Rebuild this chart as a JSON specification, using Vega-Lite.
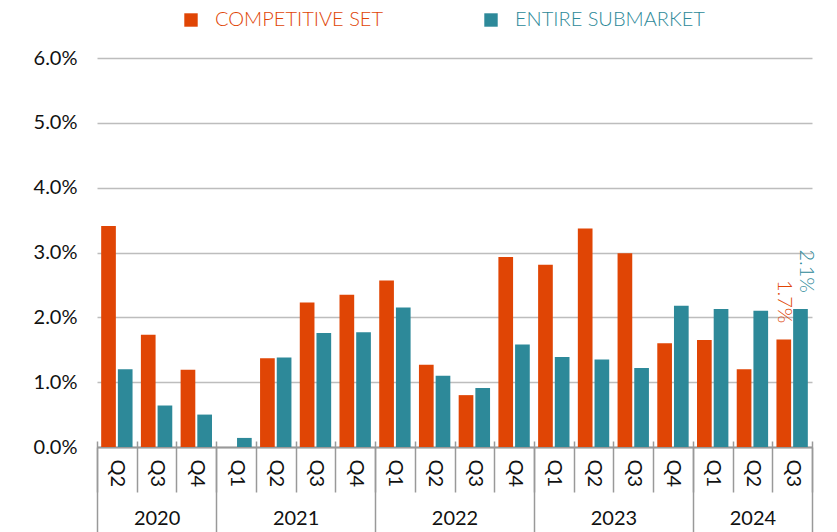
{
  "$schema": "https://vega.github.io/schema/vega-lite/v6.json",
  "width": 715,
  "height": 389,
  "autosize": {"type": "none"},
  "padding": {"left": 97, "top": 58, "right": 25, "bottom": 85},
  "config": {"view": {"stroke": null}, "font": "Lato"},
  "datasets": {
    "rent": [
      {"q": "2020 Q2", "series": "COMPETITIVE SET", "value": 0.0341},
      {"q": "2020 Q2", "series": "ENTIRE SUBMARKET", "value": 0.0120},
      {"q": "2020 Q3", "series": "COMPETITIVE SET", "value": 0.0173},
      {"q": "2020 Q3", "series": "ENTIRE SUBMARKET", "value": 0.0064},
      {"q": "2020 Q4", "series": "COMPETITIVE SET", "value": 0.0119},
      {"q": "2020 Q4", "series": "ENTIRE SUBMARKET", "value": 0.0050},
      {"q": "2021 Q1", "series": "COMPETITIVE SET", "value": 0.0000},
      {"q": "2021 Q1", "series": "ENTIRE SUBMARKET", "value": 0.0014},
      {"q": "2021 Q2", "series": "COMPETITIVE SET", "value": 0.0137},
      {"q": "2021 Q2", "series": "ENTIRE SUBMARKET", "value": 0.0138},
      {"q": "2021 Q3", "series": "COMPETITIVE SET", "value": 0.0223},
      {"q": "2021 Q3", "series": "ENTIRE SUBMARKET", "value": 0.0176},
      {"q": "2021 Q4", "series": "COMPETITIVE SET", "value": 0.0235},
      {"q": "2021 Q4", "series": "ENTIRE SUBMARKET", "value": 0.0177},
      {"q": "2022 Q1", "series": "COMPETITIVE SET", "value": 0.0257},
      {"q": "2022 Q1", "series": "ENTIRE SUBMARKET", "value": 0.0215},
      {"q": "2022 Q2", "series": "COMPETITIVE SET", "value": 0.0127},
      {"q": "2022 Q2", "series": "ENTIRE SUBMARKET", "value": 0.0110},
      {"q": "2022 Q3", "series": "COMPETITIVE SET", "value": 0.0080},
      {"q": "2022 Q3", "series": "ENTIRE SUBMARKET", "value": 0.0091},
      {"q": "2022 Q4", "series": "COMPETITIVE SET", "value": 0.0293},
      {"q": "2022 Q4", "series": "ENTIRE SUBMARKET", "value": 0.0158},
      {"q": "2023 Q1", "series": "COMPETITIVE SET", "value": 0.0281},
      {"q": "2023 Q1", "series": "ENTIRE SUBMARKET", "value": 0.0139},
      {"q": "2023 Q2", "series": "COMPETITIVE SET", "value": 0.0337},
      {"q": "2023 Q2", "series": "ENTIRE SUBMARKET", "value": 0.0135},
      {"q": "2023 Q3", "series": "COMPETITIVE SET", "value": 0.0299},
      {"q": "2023 Q3", "series": "ENTIRE SUBMARKET", "value": 0.0122},
      {"q": "2023 Q4", "series": "COMPETITIVE SET", "value": 0.0160},
      {"q": "2023 Q4", "series": "ENTIRE SUBMARKET", "value": 0.0218},
      {"q": "2024 Q1", "series": "COMPETITIVE SET", "value": 0.0165},
      {"q": "2024 Q1", "series": "ENTIRE SUBMARKET", "value": 0.0213},
      {"q": "2024 Q2", "series": "COMPETITIVE SET", "value": 0.0120},
      {"q": "2024 Q2", "series": "ENTIRE SUBMARKET", "value": 0.0210},
      {"q": "2024 Q3", "series": "COMPETITIVE SET", "value": 0.0166},
      {"q": "2024 Q3", "series": "ENTIRE SUBMARKET", "value": 0.0213}
    ],
    "years": [
      {"year": "2020", "startQ": 0, "endQ": 3},
      {"year": "2021", "startQ": 3, "endQ": 7},
      {"year": "2022", "startQ": 7, "endQ": 11},
      {"year": "2023", "startQ": 11, "endQ": 15},
      {"year": "2024", "startQ": 15, "endQ": 18}
    ]
  },
  "layer": [
    {
      "data": {"name": "rent"},
      "encoding": {
        "x": {
          "field": "q", "type": "nominal", "sort": null,
          "scale": {"paddingInner": 0, "paddingOuter": 0},
          "axis": {
            "title": null, "orient": "bottom", "offset": -6,
            "domain": false, "ticks": true, "tickBand": "extent",
            "tickSize": 51, "tickColor": "#999999", "tickWidth": 1.5,
            "labelAngle": 90, "labelAlign": "left", "labelBaseline": "middle",
            "labelPadding": -33, "labelFontSize": 20, "labelColor": "#111111",
            "labelExpr": "split(datum.value, ' ')[1]", "grid": false
          }
        },
        "xOffset": {
          "field": "series", "sort": ["COMPETITIVE SET", "ENTIRE SUBMARKET"],
          "scale": {"paddingInner": 0.12, "paddingOuter": 0.25}
        },
        "y": {
          "field": "value", "type": "quantitative",
          "scale": {"domain": [0, 0.06], "nice": false},
          "axis": {
            "title": null, "values": [0, 0.01, 0.02, 0.03, 0.04, 0.05, 0.06],
            "format": ".1%", "domain": false, "ticks": false,
            "labelPadding": 20, "labelFontSize": 20, "labelColor": "#111111",
            "gridColor": "#bdbdbd", "gridWidth": 1.5
          }
        },
        "color": {
          "field": "series", "type": "nominal",
          "scale": {"domain": ["COMPETITIVE SET", "ENTIRE SUBMARKET"], "range": ["#E04505", "#2D8999"]},
          "legend": {
            "title": null, "orient": "none", "legendX": 84, "legendY": -48,
            "direction": "horizontal", "symbolType": "square", "symbolSize": 180,
            "symbolStrokeWidth": 0, "labelFontSize": 20, "labelFontWeight": 300,
            "labelLimit": 400, "labelOffset": 14, "columnPadding": 97,
            "encode": {"labels": {"update": {"fill": {"signal": "datum.value === 'COMPETITIVE SET' ? '#E04505' : '#2D8999'"}}}}
          }
        }
      },
      "layer": [
        {"mark": {"type": "bar"}},
        {
          "transform": [{"filter": "datum.q === '2024 Q3' && datum.series === 'COMPETITIVE SET'"}],
          "mark": {"type": "text", "angle": 90, "align": "right", "baseline": "middle", "dx": -16, "dy": 0, "fontSize": 20, "fontWeight": 300},
          "encoding": {"text": {"field": "value", "type": "quantitative", "format": ".1%"}}
        },
        {
          "transform": [{"filter": "datum.q === '2024 Q3' && datum.series === 'ENTIRE SUBMARKET'"}],
          "mark": {"type": "text", "angle": 90, "align": "right", "baseline": "middle", "dx": -16, "dy": -6, "fontSize": 20, "fontWeight": 300},
          "encoding": {"text": {"field": "value", "type": "quantitative", "format": ".1%"}}
        }
      ]
    },
    {
      "data": {"name": "years"},
      "mark": {"type": "rule", "opacity": 0},
      "encoding": {
        "x": {
          "field": "startQ", "type": "quantitative",
          "scale": {"domain": [0, 18], "nice": false, "zero": false},
          "axis": {
            "title": null, "orient": "bottom", "offset": 0,
            "values": [0, 3, 7, 11, 15, 18], "labels": false, "grid": false,
            "domain": true, "domainColor": "#999999", "domainWidth": 2,
            "ticks": true, "tickSize": 85, "tickColor": "#999999", "tickWidth": 1.5
          }
        }
      }
    },
    {
      "data": {"name": "years"},
      "mark": {"type": "rule", "opacity": 0},
      "encoding": {
        "x": {
          "field": "endQ", "type": "quantitative",
          "scale": {"domain": [0, 18], "nice": false, "zero": false},
          "axis": {
            "title": null, "orient": "bottom", "offset": 0,
            "values": [1.5, 5, 9, 13, 16.5], "grid": false,
            "domain": false, "ticks": false,
            "labelPadding": 61, "labelFontSize": 20, "labelColor": "#111111",
            "labelExpr": "datum.value < 3 ? '2020' : datum.value < 7 ? '2021' : datum.value < 11 ? '2022' : datum.value < 15 ? '2023' : '2024'"
          }
        }
      }
    }
  ],
  "resolve": {"scale": {"x": "independent"}, "axis": {"x": "independent"}}
}
